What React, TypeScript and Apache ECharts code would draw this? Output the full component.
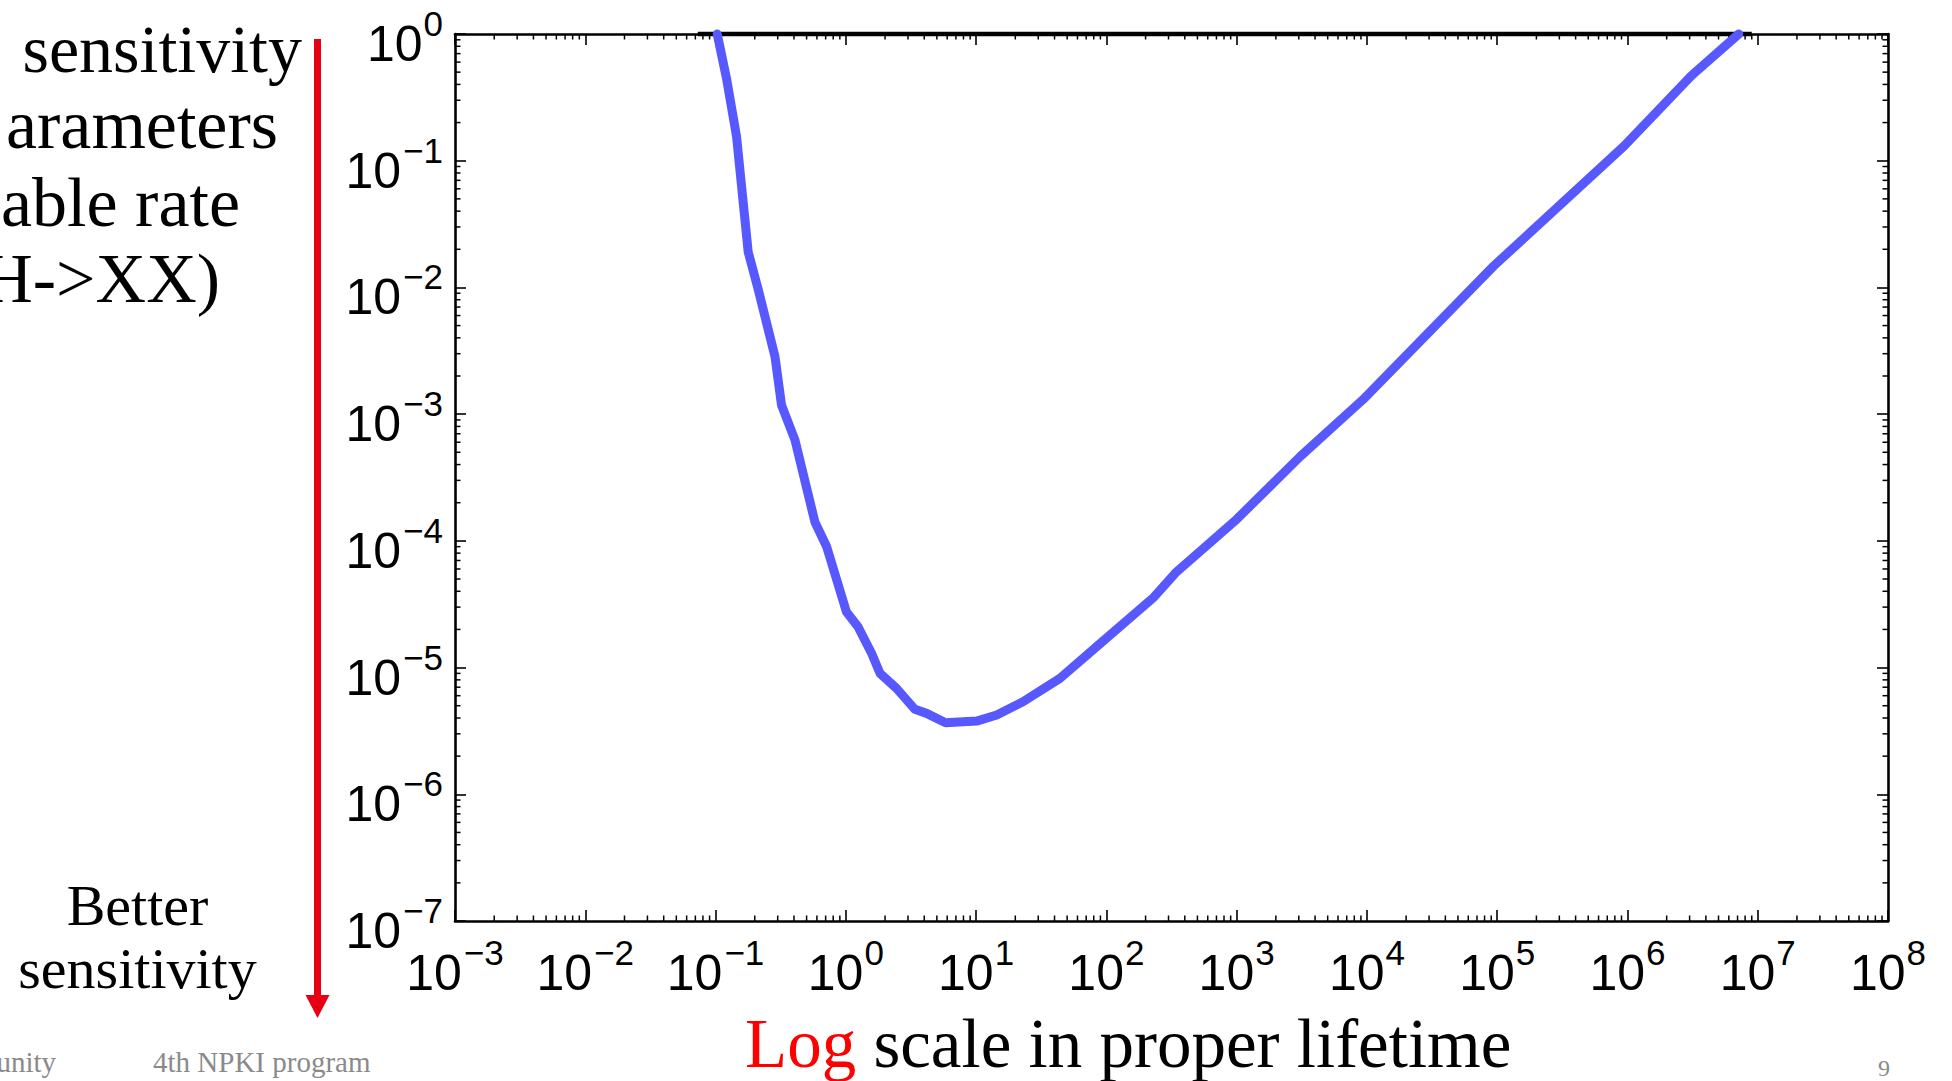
import React, { useEffect, useRef } from "react";
import * as echarts from "echarts";

// ---- data ----
// x axis: proper lifetime, decades 10^-3 .. 10^8 (drawn on log10 scale)
const X_MIN_EXP = -3;
const X_MAX_EXP = 8;
const Y_MIN = 1e-7;
const Y_MAX = 1;

// blue sensitivity curve (proper lifetime, BR)
const curveX = [0.103, 0.122, 0.145, 0.178, 0.213, 0.286, 0.321, 0.407, 0.579, 0.713, 1.01, 1.24, 1.58, 1.83, 2.45, 3.39, 4.17, 5.83, 10.1, 14.4, 22.9, 44, 84, 232, 346, 1000, 3070, 9380, 9.4e4, 9.45e5, 3.1e6, 7.15e6];
const curveY = [1.0, 0.434, 0.155, 0.0191, 0.00955, 0.00284, 0.00118, 6.25e-4, 1.41e-4, 8.98e-5, 2.76e-5, 2.1e-5, 1.29e-5, 9.0e-6, 6.85e-6, 4.68e-6, 4.35e-6, 3.67e-6, 3.78e-6, 4.22e-6, 5.37e-6, 8.22e-6, 1.46e-5, 3.6e-5, 5.7e-5, 1.48e-4, 4.62e-4, 1.31e-3, 0.01476, 0.131, 0.47, 1.0];

// black reference line at BR = 1
const refX = [0.073, 9.0e6];
const refY = [1, 1];

// decades for minor ticks
const xDecades = [-3, -2, -1, 0, 1, 2, 3, 4, 5, 6, 7];
const yDecades = [-7, -6, -5, -4, -3, -2, -1];
const minorMult = [2, 3, 4, 5, 6, 7, 8, 9];

const leftTexts = ["sensitivity", "arameters", "able rate", "H->XX)"];
const bottomLeftTexts = ["Better", "sensitivity"];
const xTitleRed = "Log";
const xTitleRest = " scale in proper lifetime";
const footerLeft = "unity";
const footerMid = "4th NPKI program";
const pageNo = "9";

const SANS = "'Liberation Sans', Arial, Helvetica, sans-serif";
const SERIF = "'Liberation Serif', 'Times New Roman', serif";

function expLabel(e: number) {
  const r = Math.round(e);
  if (r < 0) return "{b|10}{n|\u2212" + Math.abs(r) + "}";
  return "{b|10}{s|" + r + "}";
}

const labelRich = {
  b: { fontSize: 50, fontFamily: SANS, color: "#000", lineHeight: 69, verticalAlign: "bottom" },
  s: { fontSize: 35, fontFamily: SANS, color: "#000", lineHeight: 35, verticalAlign: "top", padding: [6, 0, 0, 1] },
  n: { fontSize: 35, fontFamily: SANS, color: "#000", lineHeight: 35, verticalAlign: "top", padding: [6, 0, 0, 2] },
};

export default function App() {
  const ref = useRef<HTMLDivElement>(null);
  useEffect(() => {
    document.body.style.margin = "0";
    document.body.style.overflow = "hidden";
    const chart = echarts.init(ref.current!, null, { renderer: "svg" });

    const xMinorData: number[][] = [];
    xDecades.forEach((d) => minorMult.forEach((m) => xMinorData.push([Math.log10(m) + d, Y_MIN])));
    const yMinorData: number[][] = [];
    yDecades.forEach((d) => minorMult.forEach((m) => yMinorData.push([X_MIN_EXP, m * Math.pow(10, d)])));

    const tickStyle = { stroke: "#000", lineWidth: 1.5 };
    const MINOR = 5.5;

    const axisLine = { show: true, onZero: false, lineStyle: { color: "#000", width: 2.6 } };
    const axisTick = { show: true, inside: true, length: 11, lineStyle: { color: "#000", width: 1.6 } };

    const xAxisBase = {
      type: "value",
      min: X_MIN_EXP,
      max: X_MAX_EXP,
      interval: 1,
      axisLine,
      axisTick,
      splitLine: { show: false },
    };
    const yAxisBase = {
      type: "log",
      logBase: 10,
      min: Y_MIN,
      max: Y_MAX,
      splitNumber: 7,
      axisLine,
      axisTick,
      splitLine: { show: false },
    };

    const seriesText = (t: string, x: number, baseline: number, size: number, align: string, color = "#000") => ({
      type: "text",
      x,
      y: baseline - 0.34 * size,
      silent: true,
      style: {
        text: t,
        font: `${size}px ${SERIF}`,
        fill: color,
        textAlign: align,
        verticalAlign: "middle",
      },
    });

    const option: any = {
      animation: false,
      backgroundColor: "#fff",
      grid: { left: 455, top: 34, right: 64, bottom: 160, containLabel: false },
      xAxis: [
        {
          ...xAxisBase,
          position: "bottom",
          axisLabel: { show: true, margin: 8, formatter: (v: number) => expLabel(v), rich: labelRich },
        },
        { ...xAxisBase, position: "top", axisLabel: { show: false } },
      ],
      yAxis: [
        {
          ...yAxisBase,
          position: "left",
          axisLabel: {
            show: true,
            margin: 12,
            padding: [1, 0, 0, 0],
            formatter: (v: number) => expLabel(Math.log10(v)),
            rich: labelRich,
          },
        },
        { ...yAxisBase, position: "right", axisLabel: { show: false } },
      ],
      series: [
        {
          type: "custom",
          name: "xminor",
          xAxisIndex: 0,
          yAxisIndex: 0,
          silent: true,
          data: xMinorData,
          encode: { x: 0, y: 1 },
          renderItem: (params: any, api: any) => {
            const v = api.value(0);
            const b = api.coord([v, Y_MIN]);
            const t = api.coord([v, Y_MAX]);
            return {
              type: "group",
              children: [
                { type: "line", shape: { x1: b[0], y1: b[1], x2: b[0], y2: b[1] - MINOR }, style: tickStyle },
                { type: "line", shape: { x1: t[0], y1: t[1], x2: t[0], y2: t[1] + MINOR }, style: tickStyle },
              ],
            };
          },
        },
        {
          type: "custom",
          name: "yminor",
          xAxisIndex: 0,
          yAxisIndex: 0,
          silent: true,
          data: yMinorData,
          encode: { x: 0, y: 1 },
          renderItem: (params: any, api: any) => {
            const v = api.value(1);
            const l = api.coord([X_MIN_EXP, v]);
            const r = api.coord([X_MAX_EXP, v]);
            return {
              type: "group",
              children: [
                { type: "line", shape: { x1: l[0], y1: l[1], x2: l[0] + MINOR, y2: l[1] }, style: tickStyle },
                { type: "line", shape: { x1: r[0], y1: r[1], x2: r[0] - MINOR, y2: r[1] }, style: tickStyle },
              ],
            };
          },
        },
        {
          type: "line",
          name: "reference",
          data: refX.map((x, i) => [Math.log10(x), refY[i]]),
          symbol: "none",
          clip: false,
          lineStyle: { color: "#000", width: 4.5 },
          z: 3,
        },
        {
          type: "line",
          name: "sensitivity",
          data: curveX.map((x, i) => [Math.log10(x), curveY[i]]),
          symbol: "none",
          clip: false,
          lineStyle: { color: "#5858ff", width: 9, join: "round", cap: "round" },
          z: 4,
        },
      ],
      graphic: [
        // left explanatory texts
        seriesText(leftTexts[0], 302, 72, 68, "right"),
        seriesText(leftTexts[1], 278, 148, 70, "right"),
        seriesText(leftTexts[2], 240, 226, 70, "right"),
        seriesText(leftTexts[3], 220, 302, 70, "right"),
        seriesText(bottomLeftTexts[0], 137.5, 925, 58, "center"),
        seriesText(bottomLeftTexts[1], 137.5, 988, 58, "center"),
        // red arrow
        {
          type: "line",
          silent: true,
          shape: { x1: 317.5, y1: 39, x2: 317.5, y2: 998 },
          style: { stroke: "#e60012", lineWidth: 7 },
        },
        {
          type: "polygon",
          silent: true,
          shape: { points: [[305.5, 995], [329.5, 995], [317.5, 1018]] },
          style: { fill: "#e60012" },
        },
        // x axis title
        {
          type: "text",
          x: 745,
          y: 1067 - 0.34 * 69,
          silent: true,
          style: {
            text: "{r|" + xTitleRed + "}{k|" + xTitleRest + "}",
            font: `69px ${SERIF}`,
            fill: "#000",
            textAlign: "left",
            verticalAlign: "middle",
            rich: {
              r: { fill: "#ff0000", font: `69px ${SERIF}` },
              k: { fill: "#000", font: `69px ${SERIF}` },
            },
          },
        },
        // footer
        seriesText(footerLeft, 56, 1072, 29, "right", "#8a8a8a"),
        seriesText(footerMid, 153, 1072, 29, "left", "#8a8a8a"),
        seriesText(pageNo, 1890, 1076, 24, "right", "#8a8a8a"),
      ],
    };
    chart.setOption(option);
    return () => chart.dispose();
  }, []);
  return <div ref={ref} style={{ width: 1952, height: 1081 }} />;
}
